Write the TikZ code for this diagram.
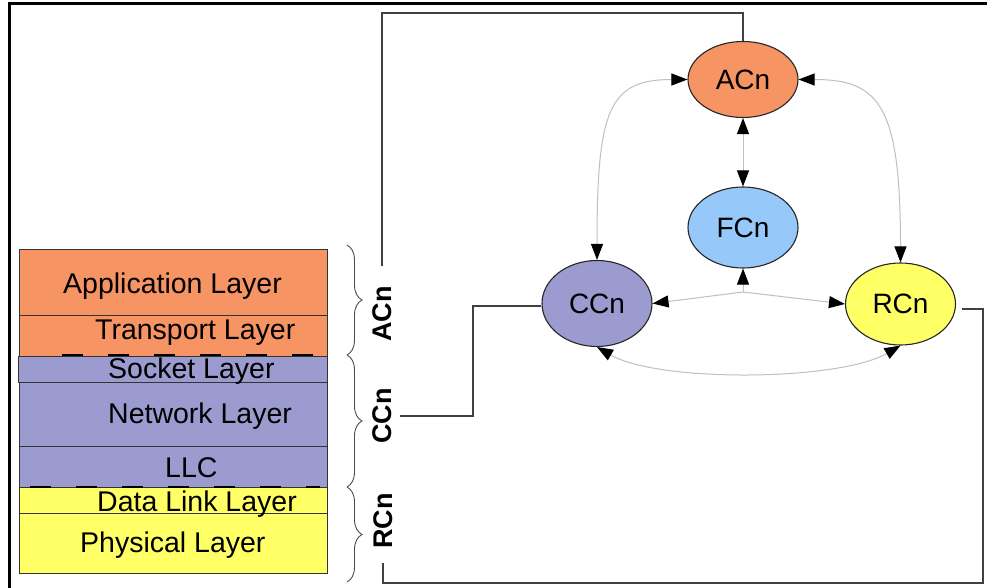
\documentclass[tikz,border=0pt]{standalone}
\usepackage{fontspec}
\setmainfont{Liberation Sans}
\usetikzlibrary{shapes.geometric,arrows.meta,decorations.pathreplacing}

\definecolor{apporange}{RGB}{246,148,100}
\definecolor{netpurple}{RGB}{155,155,208}
\definecolor{linkyellow}{RGB}{255,255,102}
\definecolor{fwdblue}{RGB}{150,200,250}

\begin{document}
\begin{tikzpicture}[x=1pt,y=1pt,
  layer/.style={draw=black!80, line width=0.8pt, anchor=north west, inner sep=0pt, minimum width=308pt},
  layertext/.style={anchor=base west, inner sep=0pt, font=\fontsize{28.5}{30}\selectfont},
  ctrl/.style={ellipse, draw=black!85, line width=1.1pt, minimum width=110pt, inner sep=0pt, font=\fontsize{28}{30}\selectfont},
  stacklabel/.style={rotate=90, inner sep=0pt, font=\bfseries\fontsize{27}{29}\selectfont},
  wire/.style={draw=black!75, line width=1.4pt},
  tip/.tip={Triangle[length=16pt,width=12pt,color=black]},
  twoway/.style={draw=black!25, line width=1pt, tip-tip},
  oneway/.style={draw=black!25, line width=1pt, -tip},
  stackbrace/.style={decorate, decoration={brace, amplitude=15pt}, draw=black!70, line width=0.9pt},
  sepline/.style={line width=2.6pt, dash pattern=on 21pt off 25pt}
]
\useasboundingbox (0,0) rectangle (987,-588);

% outer frame (top and left edges)
\draw[line width=3pt] (9,-588) -- (9,-3.5) -- (987,-3.5);

% protocol stack
\node[layer, fill=apporange,  minimum height=66pt] (app)  at (19,-249) {};
\node[layer, fill=apporange,  minimum height=41pt] (tra)  at (19,-315) {};
\node[layer, fill=netpurple,  minimum height=26pt, minimum width=309pt] (soc) at (18,-356) {};
\node[layer, fill=netpurple,  minimum height=64pt] (net)  at (19,-382) {};
\node[layer, fill=netpurple,  minimum height=41pt] (llc)  at (19,-446) {};
\node[layer, fill=linkyellow, minimum height=26pt] (dll)  at (19,-487) {};
\node[layer, fill=linkyellow, minimum height=60pt] (phy)  at (19,-513) {};

\node[layertext] (tapp) at (63,-293)  {Application Layer};
\node[layertext] (ttra) at (95,-339)  {Transport Layer};
\node[layertext] (tsoc) at (108,-378) {Socket Layer};
\node[layertext] (tnet) at (108,-423) {Network Layer};
\node[layertext] (tllc) at (165,-477) {LLC};
\node[layertext] (tdll) at (97,-511)  {Data Link Layer};
\node[layertext] (tphy) at (80,-552)  {Physical Layer};

% dashed boundaries between the controller groups
\draw[sepline] (62,-355) -- (314,-355);
\draw[sepline] (30,-487) -- (320,-487);

% braces and group labels
\draw[stackbrace] (347,-245) -- (347,-355);
\draw[stackbrace] (347,-355) -- (347,-487);
\draw[stackbrace] (347,-487) -- (347,-582);

\node[stacklabel] (lA) at (382,-314) {ACn};
\node[stacklabel] (lC) at (382,-416) {CCn};
\node[stacklabel] (lR) at (383,-521) {RCn};

% controllers
\node[ctrl, fill=apporange,  minimum height=76pt] (ACn) at (743,-79.5)  {ACn};
\node[ctrl, fill=fwdblue,    minimum height=81pt] (FCn) at (743,-227.5) {FCn};
\node[ctrl, fill=netpurple,  minimum height=86pt] (CCn) at (597,-303.5) {CCn};
\node[ctrl, fill=linkyellow, minimum height=82pt] (RCn) at (900.5,-304) {RCn};

% interactions between controllers
\draw[twoway] (ACn.west) to[out=180, in=90, out looseness=1, in looseness=1.9] (CCn.north);
\draw[twoway] (ACn.east) to[out=0, in=90, out looseness=1, in looseness=1.9] (RCn.north);
\draw[twoway] (ACn.south) -- (FCn.north);
\coordinate (J) at (743,-292);
\draw[oneway] (J) -- (FCn.south);
\draw[oneway] (J) -- (CCn.east);
\draw[oneway] (J) -- (RCn.west);
\draw[twoway] (CCn.south) to[out=-30, in=-150, looseness=0.6] (RCn.south);

% wiring from the stack groups to the controllers
\coordinate (topA) at (381,-13);
\draw[wire, shorten <=20pt] (lA.east) -- (lA.east |- topA) -| (ACn.north);
\coordinate (bendC) at (473,-306);
\draw[wire, shorten <=8pt] (lC.south) -| (bendC) -- (CCn.west |- bendC);
\coordinate (cornR) at (983,-583);
\coordinate (endR) at (962,-309);
\draw[wire, shorten <=14pt] (lR.west) |- (cornR) |- (endR);
\end{tikzpicture}
\end{document}
